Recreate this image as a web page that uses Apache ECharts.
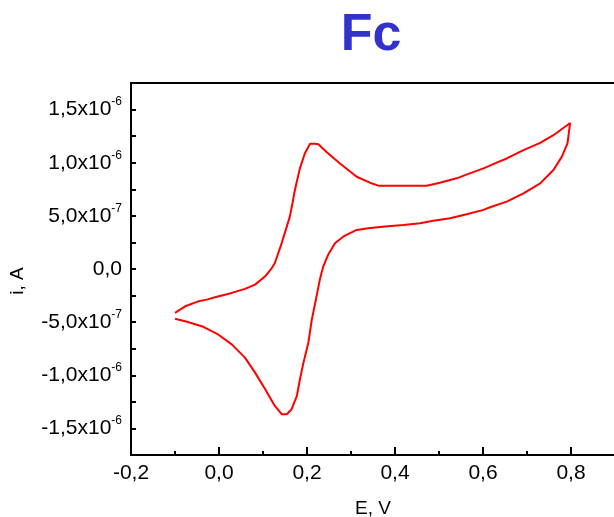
<!DOCTYPE html>
<html>
<head>
<meta charset="utf-8">
<script src="https://cdn.jsdelivr.net/npm/echarts@6/dist/echarts.min.js"></script>
<style>html,body{margin:0;padding:0;background:#fff}#c{width:614px;height:517px}</style>
</head>
<body>
<div id="c"></div>
<script>
// Potential E (V) and current i (in units of 1e-6 A).
// Forward (anodic) scan from -0.1 V to 0.8 V
const forwardE = [-0.100,-0.077,-0.047,-0.028,-0.009,0.029,0.059,0.082,0.105,0.120,0.127,0.1425,0.154,0.161,0.167,0.171,0.176,0.184,0.195,0.207,0.218,0.226,0.245,0.275,0.313,0.343,0.362,0.472,0.502,0.540,0.570,0.601,0.635,0.654,0.692,0.730,0.760,0.798];
const forwardI = [-0.412,-0.351,-0.304,-0.288,-0.266,-0.225,-0.187,-0.147,-0.069,0.009,0.056,0.244,0.399,0.493,0.619,0.712,0.806,0.949,1.087,1.179,1.179,1.174,1.099,0.993,0.868,0.812,0.784,0.784,0.812,0.853,0.900,0.947,1.008,1.040,1.118,1.187,1.259,1.374];
// Reverse (cathodic) scan from 0.8 V back to -0.1 V
const reverseE = [0.792,0.779,0.760,0.730,0.692,0.654,0.616,0.601,0.563,0.525,0.487,0.457,0.419,0.377,0.339,0.313,0.283,0.264,0.248,0.237,0.230,0.221,0.211,0.203,0.192,0.184,0.177,0.165,0.154,0.1425,0.127,0.105,0.082,0.059,0.029,-0.002,-0.039,-0.077,-0.100];
const reverseI = [1.181,1.055,0.931,0.806,0.712,0.634,0.581,0.556,0.515,0.478,0.453,0.431,0.415,0.399,0.384,0.368,0.306,0.244,0.134,0.024,-0.084,-0.272,-0.475,-0.694,-0.881,-1.037,-1.194,-1.319,-1.366,-1.366,-1.288,-1.131,-0.975,-0.834,-0.709,-0.616,-0.538,-0.491,-0.469];
const xTickLabels = ['-0,2','0,0','0,2','0,4','0,6','0,8'];
const titleText = 'Fc';
const xName = 'E, V';
const yName = 'i, A';

const FONT = '"Liberation Sans", Arial, sans-serif';
const data = [];
forwardE.forEach((e, k) => data.push([e, forwardI[k]]));
reverseE.forEach((e, k) => data.push([e, reverseI[k]]));

function yLabel(v) {
  const r = Math.round(v * 100) / 100;
  if (Math.abs(Math.round(r * 2) - r * 2) > 1e-6) return '';
  if (Math.abs(r) < 1e-9) return '{m|0,0}';
  let mant, exp;
  if (Math.abs(r) >= 1) { mant = r.toFixed(1); exp = '-6'; }
  else { mant = (r * 10).toFixed(1); exp = '-7'; }
  return '{m|' + mant.replace('.', ',') + 'x10}{s|' + exp + '}';
}
function xLabel(v) {
  const r = Math.round(v * 10) / 10;
  const idx = Math.round((r + 0.2) / 0.2);
  return (idx >= 0 && idx < xTickLabels.length) ? xTickLabels[idx] : '';
}

const chart = echarts.init(document.getElementById('c'), null, {renderer: 'canvas'});
chart.setOption({
  animation: false,
  backgroundColor: '#ffffff',
  title: {
    text: titleText, left: 371, top: 10, padding: 0, textAlign: 'center',
    textStyle: {fontFamily: FONT, fontWeight: 'bold', fontSize: 52, color: '#3333CC'}
  },
  grid: {
    left: 131, top: 83, bottom: 62, right: -45,
    outerBoundsMode: 'none', containLabel: false,
    show: true, borderColor: '#000', borderWidth: 2, backgroundColor: 'transparent'
  },
  xAxis: {
    type: 'value', min: -0.2, max: 1.0, interval: 0.2,
    name: xName, nameLocation: 'middle', nameGap: 44,
    nameTextStyle: {fontFamily: FONT, fontSize: 19, color: '#000', padding: [0, 44, 0, 0]},
    axisLine: {show: true, onZero: false, lineStyle: {color: '#000', width: 2}},
    axisTick: {show: true, inside: true, length: 8, lineStyle: {color: '#000', width: 2}},
    minorTick: {show: true, splitNumber: 2, length: 4, lineStyle: {color: '#000', width: 2}},
    splitLine: {show: false},
    axisLabel: {formatter: xLabel, fontFamily: FONT, fontSize: 21, color: '#000', margin: 8, showMaxLabel: false}
  },
  yAxis: {
    type: 'value', min: -1.75, max: 1.75, interval: 0.25,
    name: yName, nameLocation: 'middle', nameGap: 104, nameRotate: 90,
    nameTextStyle: {fontFamily: FONT, fontSize: 19, color: '#000', padding: [0, 24, 0, 0]},
    axisLine: {show: true, onZero: false, lineStyle: {color: '#000', width: 2}},
    axisTick: {show: true, inside: true, length: 5, lineStyle: {color: '#000', width: 2}},
    splitLine: {show: false},
    axisLabel: {
      formatter: yLabel, margin: 9, showMinLabel: true, showMaxLabel: true,
      rich: {
        m: {fontFamily: FONT, fontSize: 21, color: '#000', lineHeight: 27},
        s: {fontFamily: FONT, fontSize: 12, color: '#000', verticalAlign: 'top', lineHeight: 14}
      }
    }
  },
  series: [{
    type: 'line', data: data, showSymbol: false, smooth: false,
    lineStyle: {color: '#ff0000', width: 2}, itemStyle: {color: '#ff0000'}
  }]
});
</script>
</body>
</html>
